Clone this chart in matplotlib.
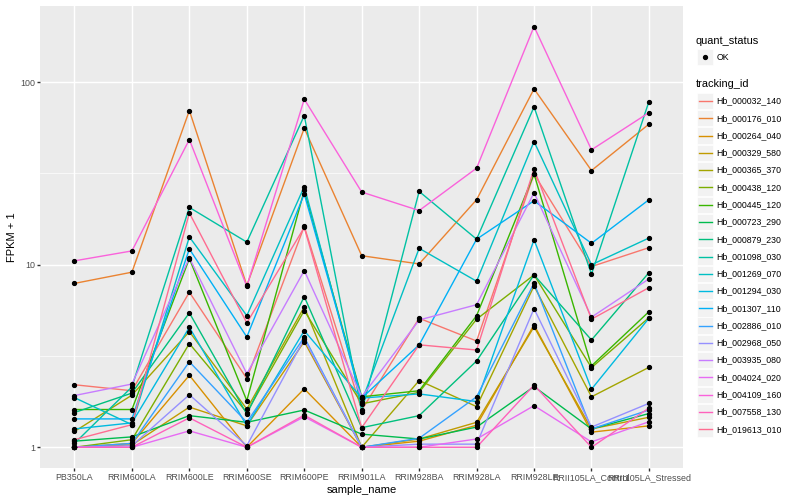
import numpy as np
import matplotlib
matplotlib.use("Agg")
import matplotlib.pyplot as plt
from matplotlib.patches import Rectangle
from matplotlib.lines import Line2D

plt.rcParams['font.family'] = ['Liberation Sans', 'DejaVu Sans']

samples = ["PB350LA", "RRIM600LA", "RRIM600LE", "RRIM600SE", "RRIM600PE",
           "RRIM901LA", "RRIM928BA", "RRIM928LA", "RRIM928LE",
           "RRII105LA_Control", "RRII105LA_Stressed"]

tracking_ids = ["Hb_000032_140", "Hb_000176_010", "Hb_000264_040", "Hb_000329_580",
                "Hb_000365_370", "Hb_000438_120", "Hb_000445_120", "Hb_000723_290",
                "Hb_000879_230", "Hb_001098_030", "Hb_001269_070", "Hb_001294_030",
                "Hb_001307_110", "Hb_002886_010", "Hb_002968_050", "Hb_003935_080",
                "Hb_004024_020", "Hb_004109_160", "Hb_007558_130", "Hb_019613_010"]

colors = ["#F8766D", "#EA8331", "#D89000", "#C09B00", "#A3A500", "#7CAE00", "#39B600",
          "#00BB4E", "#00BF7D", "#00C1A3", "#00BFC4", "#00BAE0", "#00B0F6", "#35A2FF",
          "#9590FF", "#C77CFF", "#E76BF3", "#FA62DB", "#FF62BC", "#FF6C91"]

# FPKM + 1 values, one list per tracking_id (order of samples above)
hb_000032_140 = [2.20, 2.04, 7.07, 2.38, 16.2, 1.60, 5.09, 3.82, 31.4, 9.77, 12.4]
hb_000176_010 = [7.90, 9.10, 69.9, 7.70, 56.0, 11.2, 10.1, 22.7, 91.9, 32.8, 58.9]
hb_000264_040 = [1.00, 1.05, 2.48, 1.00, 2.09, 1.00, 1.08, 1.32, 4.68, 1.21, 1.31]
hb_000329_580 = [1.00, 1.03, 1.66, 1.31, 3.79, 1.00, 1.11, 1.37, 4.57, 1.26, 1.46]
hb_000365_370 = [1.22, 1.93, 4.30, 1.62, 5.87, 1.00, 2.32, 1.67, 7.65, 1.89, 2.74]
hb_000438_120 = [1.00, 1.10, 3.70, 1.55, 5.61, 1.73, 2.00, 5.03, 8.79, 2.73, 5.13]
hb_000445_120 = [1.61, 1.61, 10.8, 1.80, 25.5, 1.89, 2.04, 5.26, 31.4, 2.79, 5.53]
hb_000723_290 = [1.08, 1.14, 1.49, 1.37, 1.60, 1.18, 1.11, 1.29, 2.15, 1.26, 1.53]
hb_000879_230 = [1.55, 1.98, 5.45, 1.52, 6.69, 1.28, 1.49, 2.97, 8.79, 3.87, 9.05]
hb_001098_030 = [1.05, 2.14, 20.6, 13.3, 65.6, 1.57, 25.2, 13.8, 73.2, 8.87, 78.3]
hb_001269_070 = [1.87, 1.33, 14.2, 5.26, 26.8, 1.78, 12.3, 8.12, 47.3, 10.0, 14.0]
hb_001294_030 = [1.26, 1.36, 4.54, 1.31, 4.35, 1.86, 1.96, 1.78, 13.7, 2.08, 5.09]
hb_001307_110 = [1.43, 1.43, 12.2, 4.02, 24.4, 1.86, 3.64, 13.8, 22.4, 13.1, 22.7]
hb_002886_010 = [1.00, 1.05, 2.94, 1.37, 4.01, 1.00, 1.12, 1.89, 7.92, 1.26, 1.60]
hb_002968_050 = [1.00, 1.02, 1.94, 1.02, 3.92, 1.00, 1.04, 1.04, 5.75, 1.29, 1.74]
hb_003935_080 = [1.92, 2.22, 10.9, 2.53, 9.29, 1.89, 4.98, 6.04, 24.8, 5.16, 8.36]
hb_004024_020 = [1.00, 1.00, 1.23, 1.00, 1.47, 1.00, 1.00, 1.11, 1.69, 1.07, 1.38]
hb_004109_160 = [10.5, 11.9, 48.5, 7.60, 80.7, 25.0, 19.8, 33.8, 201.7, 42.6, 68.1]
hb_007558_130 = [1.00, 1.00, 1.45, 1.00, 1.50, 1.00, 1.00, 1.00, 2.19, 1.00, 1.64]
hb_019613_010 = [1.10, 1.33, 19.2, 4.80, 16.0, 1.28, 3.64, 3.41, 33.5, 5.03, 7.49]

series = [hb_000032_140, hb_000176_010, hb_000264_040, hb_000329_580, hb_000365_370,
          hb_000438_120, hb_000445_120, hb_000723_290, hb_000879_230, hb_001098_030,
          hb_001269_070, hb_001294_030, hb_001307_110, hb_002886_010, hb_002968_050,
          hb_003935_080, hb_004024_020, hb_004109_160, hb_007558_130, hb_019613_010]

W, H = 800, 500
fig = plt.figure(figsize=(8, 5), dpi=100)
fig.patch.set_facecolor("white")

# panel in pixels
pl, pr, pt, pb = 40.0, 683.4, 5.5, 468.3
ax = fig.add_axes([pl / W, (H - pb) / H, (pr - pl) / W, (pb - pt) / H])
ax.set_facecolor("#EBEBEB")
for s in ax.spines.values():
    s.set_visible(False)

x = np.arange(len(samples))
for vals, col in zip(series, colors):
    ax.plot(x, vals, color=col, lw=1.0, zorder=3, solid_capstyle="butt")
for vals in series:
    ax.plot(x, vals, ls="none", marker="o", ms=2.8, color="black", zorder=4)

ax.set_yscale("log")
allv = np.concatenate([np.asarray(v, float) for v in series])
lo, hi = np.log10(allv.min()), np.log10(allv.max())
pad = 0.05 * (hi - lo)
ax.set_ylim(10 ** (lo - pad), 10 ** (hi + pad))
ax.set_xlim(-0.6, len(samples) - 1 + 0.6)

ax.set_yticks([1, 10, 100])
ax.set_yticklabels(["1", "10", "100"])
ax.yaxis.set_minor_locator(matplotlib.ticker.FixedLocator([10 ** 0.5, 10 ** 1.5]))
ax.yaxis.set_minor_formatter(matplotlib.ticker.NullFormatter())
ax.set_xticks(x)
ax.set_xticklabels(samples)

ax.grid(True, which="major", color="white", lw=1.02, zorder=0)
ax.grid(True, which="minor", axis="y", color="white", lw=0.5, zorder=0)
ax.set_axisbelow(True)
ax.tick_params(axis="both", which="major", length=2.0, width=1.0, color="#333333",
               labelsize=6.4, labelcolor="#4D4D4D", pad=1.6)
ax.tick_params(axis="y", which="minor", length=0)

ax.set_xlabel("sample_name", fontsize=8.0, color="black", labelpad=2.0)
ax.set_ylabel("FPKM + 1", fontsize=8.0, color="black", labelpad=2.0)

# legend drawn in pixel coordinates
lax = fig.add_axes([0, 0, 1, 1], zorder=5)
lax.set_xlim(0, W)
lax.set_ylim(H, 0)
lax.axis("off")
lax.patch.set_alpha(0)

tx = 696.0
kx0, kw = 697.0, 16.3
lax.text(tx, 40.7, "quant_status", fontsize=7.9, va="center", ha="left")
lax.add_patch(Rectangle((kx0, 57.0 - kw / 2), kw, kw, facecolor="#F2F2F2", edgecolor="white", lw=0.5))
lax.plot([kx0 + kw / 2], [57.0], marker="o", ms=2.8, color="black")
lax.text(716.5, 57.0, "OK", fontsize=6.3, va="center", ha="left")

lax.text(tx, 84.3, "tracking_id", fontsize=7.9, va="center", ha="left")
y0, dy = 101.0, 17.28
for i, (tid, col) in enumerate(zip(tracking_ids, colors)):
    yc = y0 + i * dy
    lax.add_patch(Rectangle((kx0, yc - kw / 2), kw, kw, facecolor="#F2F2F2", edgecolor="white", lw=0.5))
    lax.add_line(Line2D([kx0 + 1.7, kx0 + kw - 1.7], [yc, yc], color=col, lw=1.0))
    lax.text(716.5, yc, tid, fontsize=6.3, va="center", ha="left")

fig.savefig("out.png", dpi=100, facecolor="white")
